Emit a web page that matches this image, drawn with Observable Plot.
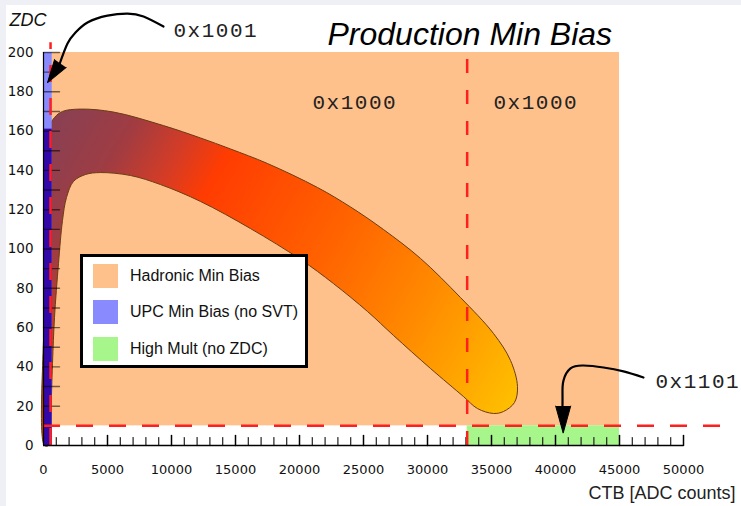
<!DOCTYPE html>
<html><head><meta charset="utf-8">
<script src="https://cdn.jsdelivr.net/npm/d3@7"></script>
<script src="https://cdn.jsdelivr.net/npm/@observablehq/plot@0.6"></script>
<style>
html,body{margin:0;padding:0;background:#eef0f5;}
#wrap{position:absolute;left:6px;top:5px;width:735px;height:501px;background:#fff;overflow:hidden;}
#legend{position:absolute;left:74px;top:249px;width:222px;height:108px;border:3px solid #000;background:#fff;font-family:"Liberation Sans",Arial,sans-serif;font-size:16px;color:#111;}
.item{position:absolute;left:10px;height:24px;display:flex;align-items:center;white-space:nowrap;}
.sw{width:25px;height:24px;margin-right:12px;flex:none;}
</style></head>
<body><div id="wrap"><div id="chart"></div><div id="legend"></div></div>
<script>
// ---- data ----
const ctbCut = 33100;      // CTB threshold (ADC)
const zdcCut = 10;         // ZDC threshold
const upcCtbCut = 550;     // UPC CTB threshold
const hadronic = {x1: 0, x2: 45000, y1: 10, y2: 200};
const highMult = {x1: 33100, x2: 45000, y1: 0, y2: 10};
const upc = {x1: 0, x2: 680, y1: 0, y2: 200};
const upcOverlapTop = 161;

const bandX = [78,78,156,391,859,1484,2891,5469,9375,12266,14609,17500,21406,23984,26563,29453,32578,35156,36484,37031,36797,35938,35156,
               33906,32813,30234,27344,25313,22656,20078,16172,12266,9141,6797,4453,3281,2344,1797,1484,1172,859,703,547,391];
const bandY = [0,73.8,145,161.3,166.9,170,171.2,169.7,162.8,156.5,150.9,143.5,131.3,121.4,109.9,95.2,75.3,57,43.3,30,21.9,17.3,16.3,
               18.8,24.9,39.2,56,68.2,82.4,94.7,110.4,124.2,132.8,137.4,138.9,137.9,134.4,126.2,114.5,92.6,65.1,41.7,12.7,0];

const arrow1X = [9375,7813,6563,5000,3438,2500,1875,1250];
const arrow1Y = [213.2,218.3,219.8,218.8,215.3,210.2,204.6,194];
const arrow2X = [46875,45313,43750,42188,41172,40625,40547,40547];
const arrow2Y = [34.6,37.7,39.7,40.7,39.2,33.1,26.5,20.4];
const head1 = {x: 313, y: 184.7, angle: 214};
const head2 = {x: 40600, y: 6.3, angle: 180};

const codeText = ["0x1001","0x1000","0x1000","0x1101"];
const codeX = [10156,21016,35156,47813];
const codeY = [208.1,171.5,171.5,29.5];

const xTickLabels = [0,5000,10000,15000,20000,25000,30000,35000,40000,45000,50000];
const yTickLabels = [0,20,40,60,80,100,120,140,160,180,200];

const legendLabels = ["Hadronic Min Bias","UPC Min Bias (no SVT)","High Mult (no ZDC)"];
const legendColors = ["#ffc18b","#8a8aff","#a6f68c"];

// ---- tables ----
const band = bandX.map((x,i)=>({x, y: bandY[i]}));
const arrows = [
  ...arrow1X.map((x,i)=>({x, y: arrow1Y[i], k: 1})),
  ...arrow2X.map((x,i)=>({x, y: arrow2Y[i], k: 2}))
];
const codes = codeText.map((t,i)=>({t, x: codeX[i], y: codeY[i]}));
const xMinor = d3.range(1000, 50001, 1000).filter(v => v % 5000 !== 0);
const xMajor = d3.range(5000, 50001, 5000);
const yMinor = d3.range(10, 201, 10);

const lineShape = {draw(ctx, l) { ctx.moveTo(0, 0); ctx.lineTo(0, -l); }};
const red = "#ff1f1f";
const dash = "17,16";

const plot = Plot.plot({
  width: 735, height: 501,
  marginLeft: 37, marginRight: 58, marginTop: 47, marginBottom: 61,
  x: {domain: [0, 50000], axis: null},
  y: {domain: [0, 200], axis: null},
  style: {background: "transparent", overflow: "visible"},
  marks: [
    Plot.rect([hadronic], {x1: "x1", x2: "x2", y1: "y1", y2: "y2", fill: legendColors[0]}),
    Plot.rect([highMult], {x1: "x1", x2: "x2", y1: "y1", y2: "y2", fill: legendColors[2]}),
    Plot.line(band, {x: "x", y: "y", curve: "catmull-rom-closed", fill: "url(#bandGrad)", stroke: "#6b3c12", strokeWidth: 1}),
    Plot.rect([upc], {x1: "x1", x2: "x2", y1: "y1", y2: "y2", fill: legendColors[1]}),
    Plot.rect([upc], {x1: "x1", x2: "x2", y1: "y1", y2: () => upcOverlapTop, fill: "#3208a8"}),
    // y ticks (inward)
    Plot.vector(yMinor, {x: 0, y: d => d, length: 16, rotate: 90, anchor: "start", shape: lineShape, stroke: "#000", strokeOpacity: 0.55, strokeWidth: 1.4}),
    // x ticks (inward)
    Plot.vector(xMinor, {x: d => d, y: 0, length: 8, rotate: 0, anchor: "start", shape: lineShape, stroke: "#222", strokeWidth: 1.2}),
    Plot.vector(xMajor, {x: d => d, y: 0, length: 10, rotate: 0, anchor: "start", shape: lineShape, stroke: "#000", strokeWidth: 1.5}),
    // dashed cut lines
    Plot.ruleX([upcCtbCut], {y1: 0, y2: 205, stroke: red, strokeWidth: 2.5, strokeDasharray: dash}),
    Plot.ruleX([ctbCut], {y1: 0, y2: 200, stroke: red, strokeWidth: 2.5, strokeDasharray: "14,17"}),
    Plot.ruleY([zdcCut], {x1: 0, x2: 53100, stroke: red, strokeWidth: 2.5, strokeDasharray: dash}),
    // axis lines
    Plot.ruleY([0], {x1: 0, x2: 50000, stroke: "#000", strokeWidth: 1.5}),
    Plot.ruleX([0], {y1: 0, y2: 200, stroke: "#000", strokeWidth: 1.2}),
    // tick labels
    Plot.text(xTickLabels, {x: d => d, y: 0, text: d => String(d), dy: 28, lineAnchor: "bottom", fontFamily: "DejaVu Sans", fontSize: 13, fill: "#111"}),
    Plot.text(yTickLabels, {x: 0, y: d => d, text: d => String(d), dx: -10, textAnchor: "end", lineAnchor: "middle", fontFamily: "DejaVu Sans", fontSize: 13.5, fill: "#111"}),
    // arrows
    Plot.line(arrows, {x: "x", y: "y", z: "k", curve: "natural", stroke: "#000", strokeWidth: 2.2}),
    Plot.vector([head1], {x: "x", y: "y", rotate: "angle", length: 23, r: 7, shape: "spike", anchor: "end", fill: "#000", stroke: "#000", strokeWidth: 1}),
    Plot.vector([head2], {x: "x", y: "y", rotate: "angle", length: 27, r: 7.5, shape: "spike", anchor: "end", fill: "#000", stroke: "#000", strokeWidth: 1}),
    // trigger codes
    Plot.text(codes, {x: "x", y: "y", text: "t", textAnchor: "start", lineAnchor: "bottom", fontFamily: "Liberation Mono", fontSize: 21, fill: "#222"}),
    // titles
    Plot.text(["Production Min Bias"], {frameAnchor: "top-left", dx: 284, dy: -8, textAnchor: "start", lineAnchor: "bottom", fontFamily: "Liberation Sans", fontStyle: "italic", fontSize: 32, fill: "#000"}),
    Plot.text(["ZDC"], {frameAnchor: "top-left", dx: -34, dy: -27, textAnchor: "start", lineAnchor: "bottom", fontFamily: "Liberation Sans", fontStyle: "italic", fontSize: 18, fill: "#111"}),
    Plot.text(["CTB [ADC counts]"], {frameAnchor: "bottom-right", dx: 52, dy: 53, textAnchor: "end", lineAnchor: "bottom", fontFamily: "Liberation Sans", fontSize: 18, fill: "#222"})
  ]
});

// gradient for the band
const sx = plot.scale("x"), sy = plot.scale("y");
const grad = d3.select(plot).insert("defs", ":first-child").append("linearGradient")
  .attr("id", "bandGrad").attr("gradientUnits", "userSpaceOnUse")
  .attr("x1", sx.apply(938)).attr("y1", sy.apply(160.3))
  .attr("x2", sx.apply(36875)).attr("y2", sy.apply(22.9));
[[0,"#8b4052"],[0.12,"#a03c42"],[0.22,"#d43c26"],[0.3,"#ff3c02"],[0.55,"#ff6200"],[0.75,"#ff8800"],[0.88,"#ffa400"],[1,"#ffbf00"]]
  .forEach(([o,c]) => grad.append("stop").attr("offset", o).attr("stop-color", c));
d3.select(plot).selectAll('g[font-family="Liberation Mono"]').style("letter-spacing", "1.5px");

document.getElementById("chart").appendChild(plot);

// legend
const leg = document.getElementById("legend");
const tops = [7, 43, 80];
legendLabels.forEach((lab, i) => {
  const it = document.createElement("div");
  it.className = "item"; it.style.top = tops[i] + "px";
  const sw = document.createElement("div");
  sw.className = "sw"; sw.style.background = legendColors[i];
  const tx = document.createElement("span"); tx.textContent = lab;
  it.appendChild(sw); it.appendChild(tx); leg.appendChild(it);
});
</script></body></html>
